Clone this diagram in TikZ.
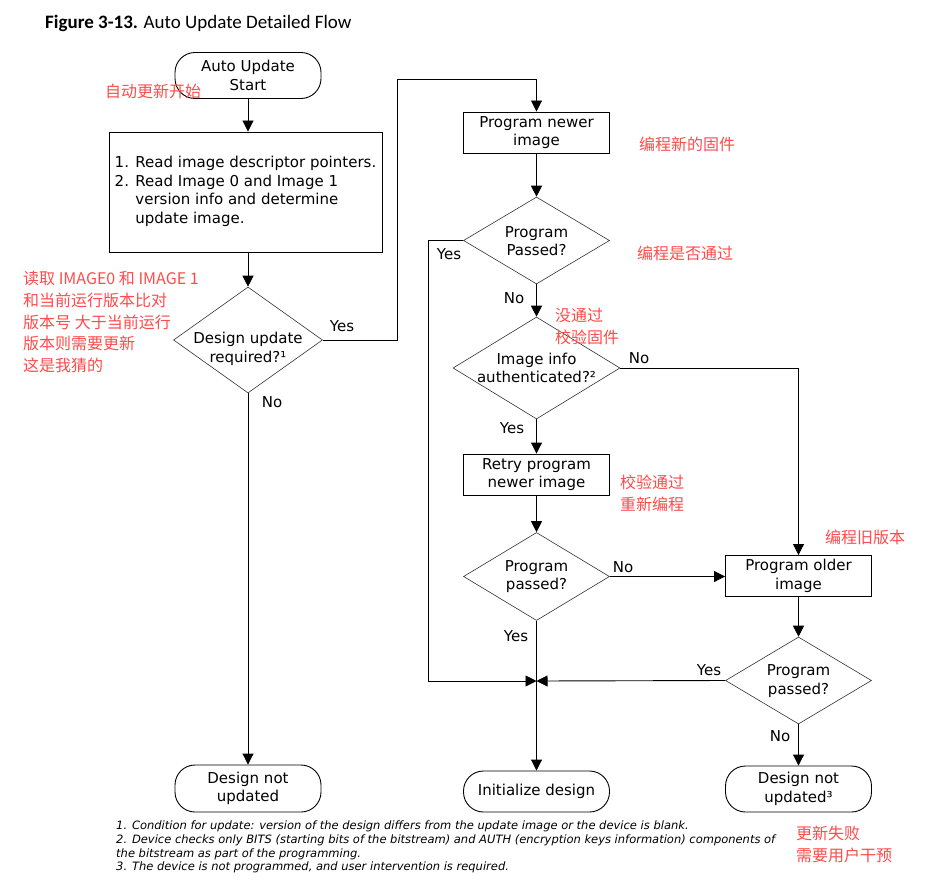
\documentclass[tikz,border=0pt]{standalone}
\usepackage{fontspec}
\setmainfont{DejaVu Sans}
\newfontfamily\cjk{Noto Sans CJK SC}
\newfontfamily\titlefont{Carlito}
\newfontfamily\fnfont{DejaVu Sans}
\usetikzlibrary{shapes.geometric,arrows.meta}
\definecolor{redn}{RGB}{255,75,75}
\tikzset{
  txt/.style={font=\fontsize{15}{18.5}\selectfont, align=center},
  box/.style={draw, line width=0.9pt, minimum width=146pt, minimum height=41pt, inner sep=1pt, txt},
  term/.style={draw, line width=0.9pt, rounded corners=20pt, minimum width=146pt, minimum height=46pt, inner sep=1pt, txt},
  dia/.style={draw=black!80, line width=0.6pt, diamond, inner sep=0pt},
  arr/.style={-{Triangle[length=11pt,width=11pt]}, line width=0.9pt},
  ln/.style={line width=0.9pt},
  lbl/.style={font=\fontsize{15}{16}\selectfont},
  note/.style={text=redn, font=\cjk\fontsize{16}{21.7}\selectfont, anchor=west, align=left, inner sep=0pt},
  fn/.style={font=\fnfont\itshape\fontsize{11.5}{14}\selectfont, anchor=west, inner sep=0pt}
}
\begin{document}
\begin{tikzpicture}[x=1pt,y=-1pt]
\useasboundingbox[fill=white] (0,0) rectangle (944,888);
% title
\node[anchor=west, inner sep=0pt, font=\titlefont\fontsize{19}{22}\selectfont] (title) at (45,23) {\textbf{Figure 3-13.} Auto Update Detailed Flow};
% left column
\node[term] (start) at (248,75.5) {Auto Update\\Start};
\node[box, minimum width=273pt, minimum height=120pt] (b1) at (245.5,192) {%
\begin{tabular}{@{}l@{ }l@{}}
1. & Read image descriptor pointers.\\
2. & Read Image 0 and Image 1\\
   & version info and determine\\
   & update image.
\end{tabular}};
\node[dia, minimum width=149pt, minimum height=106pt] (d1) at (248,340) {};
\node[txt, inner sep=0pt] (d1t) at (248,349) {Design update\\required?¹};
\node[term, minimum height=47pt] (dnu1) at (248,788.5) {Design not\\updated};
% middle column
\node[box] (b2) at (536.5,132.5) {Program newer\\image};
\node[dia, minimum width=146pt, minimum height=87pt] (d2) at (536.5,240.5) {};
\node[txt, inner sep=0pt] (d2t) at (536.5,241) {Program\\Passed?};
\node[dia, minimum width=167pt, minimum height=102pt] (d3) at (536.5,368) {};
\node[txt, inner sep=0pt] (d3t) at (536.5,368) {Image info\\authenticated?²};
\node[box] (b3) at (536.5,474.5) {Retry program\\newer image};
\node[dia, minimum width=146pt, minimum height=88pt] (d4) at (536.5,576.5) {};
\node[txt, inner sep=0pt] (d4t) at (536.5,576.5) {Program\\passed?};
\node[term, minimum height=41pt] (init) at (536.5,791.5) {Initialize design};
% right column
\node[box] (b4) at (798.5,576) {Program older\\image};
\node[dia, minimum width=146pt, minimum height=87pt] (d5) at (798.5,680.5) {};
\node[txt, inner sep=0pt] (d5t) at (798.5,681) {Program\\passed?};
\node[term] (dnu2) at (798.5,789) {Design not\\updated³};
% coordinates
\coordinate (c1) at (397,79);
\coordinate (c2) at (428,681);
\coordinate (m) at (536.5,681);
% connectors
\draw[arr] (start) -- (start |- b1.north);
\draw[arr] (d1.north |- b1.south) -- (d1.north);
\draw[arr] (d1.south) -- (dnu1.north);
\draw[arr] (d1.east) -| (c1) -| (b2.north);
\draw[arr] (b2) -- (d2.north);
\draw[arr] (d2.south) -- (d3.north);
\draw[arr] (d2.west) -| (c2) -- (m);
\draw[arr] (d3.south) -- (b3.north);
\draw[arr] (d3.east) -| (b4.north);
\draw[arr] (b3) -- (d4.north);
\draw[arr] (d4.east) -- (d4.east -| b4.west);
\draw[arr] (d4.south) -- (init.north);
\draw[arr] (b4) -- (d5.north);
\draw[arr] (d5.west) -- (m);
\draw[arr] (d5.south) -- (dnu2.north);
% branch labels
\node[lbl] (y1) at (342,326) {Yes};
\node[lbl] (n1) at (272,402) {No};
\node[lbl] (y2) at (449,254) {Yes};
\node[lbl] (n2) at (514,298) {No};
\node[lbl] (n3) at (639,358) {No};
\node[lbl] (y3) at (512,428) {Yes};
\node[lbl] (n4) at (623,567) {No};
\node[lbl] (y4) at (516,636) {Yes};
\node[lbl] (y5) at (709,670) {Yes};
\node[lbl] (n5) at (780,736) {No};
% red notes
\node[note] (r1) at (105,91) {自动更新开始};
\node[note, anchor=north west] (r2) at (23,271) {读取 IMAGE0 和 IMAGE 1\\和当前运行版本比对\\版本号 大于当前运行\\版本则需要更新\\这是我猜的};
\node[note] (r3) at (639,144) {编程新的固件};
\node[note] (r4) at (637,253) {编程是否通过};
\node[note, anchor=north west] (r5) at (555,308) {没通过\\校验固件};
\node[note, anchor=north west] (r6) at (620,475) {校验通过\\重新编程};
\node[note] (r7) at (825,537) {编程旧版本};
\node[note, anchor=north west] (r8) at (796,826) {更新失败\\需要用户干预};
% footnotes
\node[fn] (f1) at (116,826) {1. Condition for update: version of the design differs from the update image or the device is blank.};
\node[fn] (f2) at (116,840) {2. Device checks only BITS (starting bits of the bitstream) and AUTH (encryption keys information) components of};
\node[fn] (f3) at (116,854) {the bitstream as part of the programming.};
\node[fn] (f4) at (116,867) {3. The device is not programmed, and user intervention is required.};
\end{tikzpicture}
\end{document}
